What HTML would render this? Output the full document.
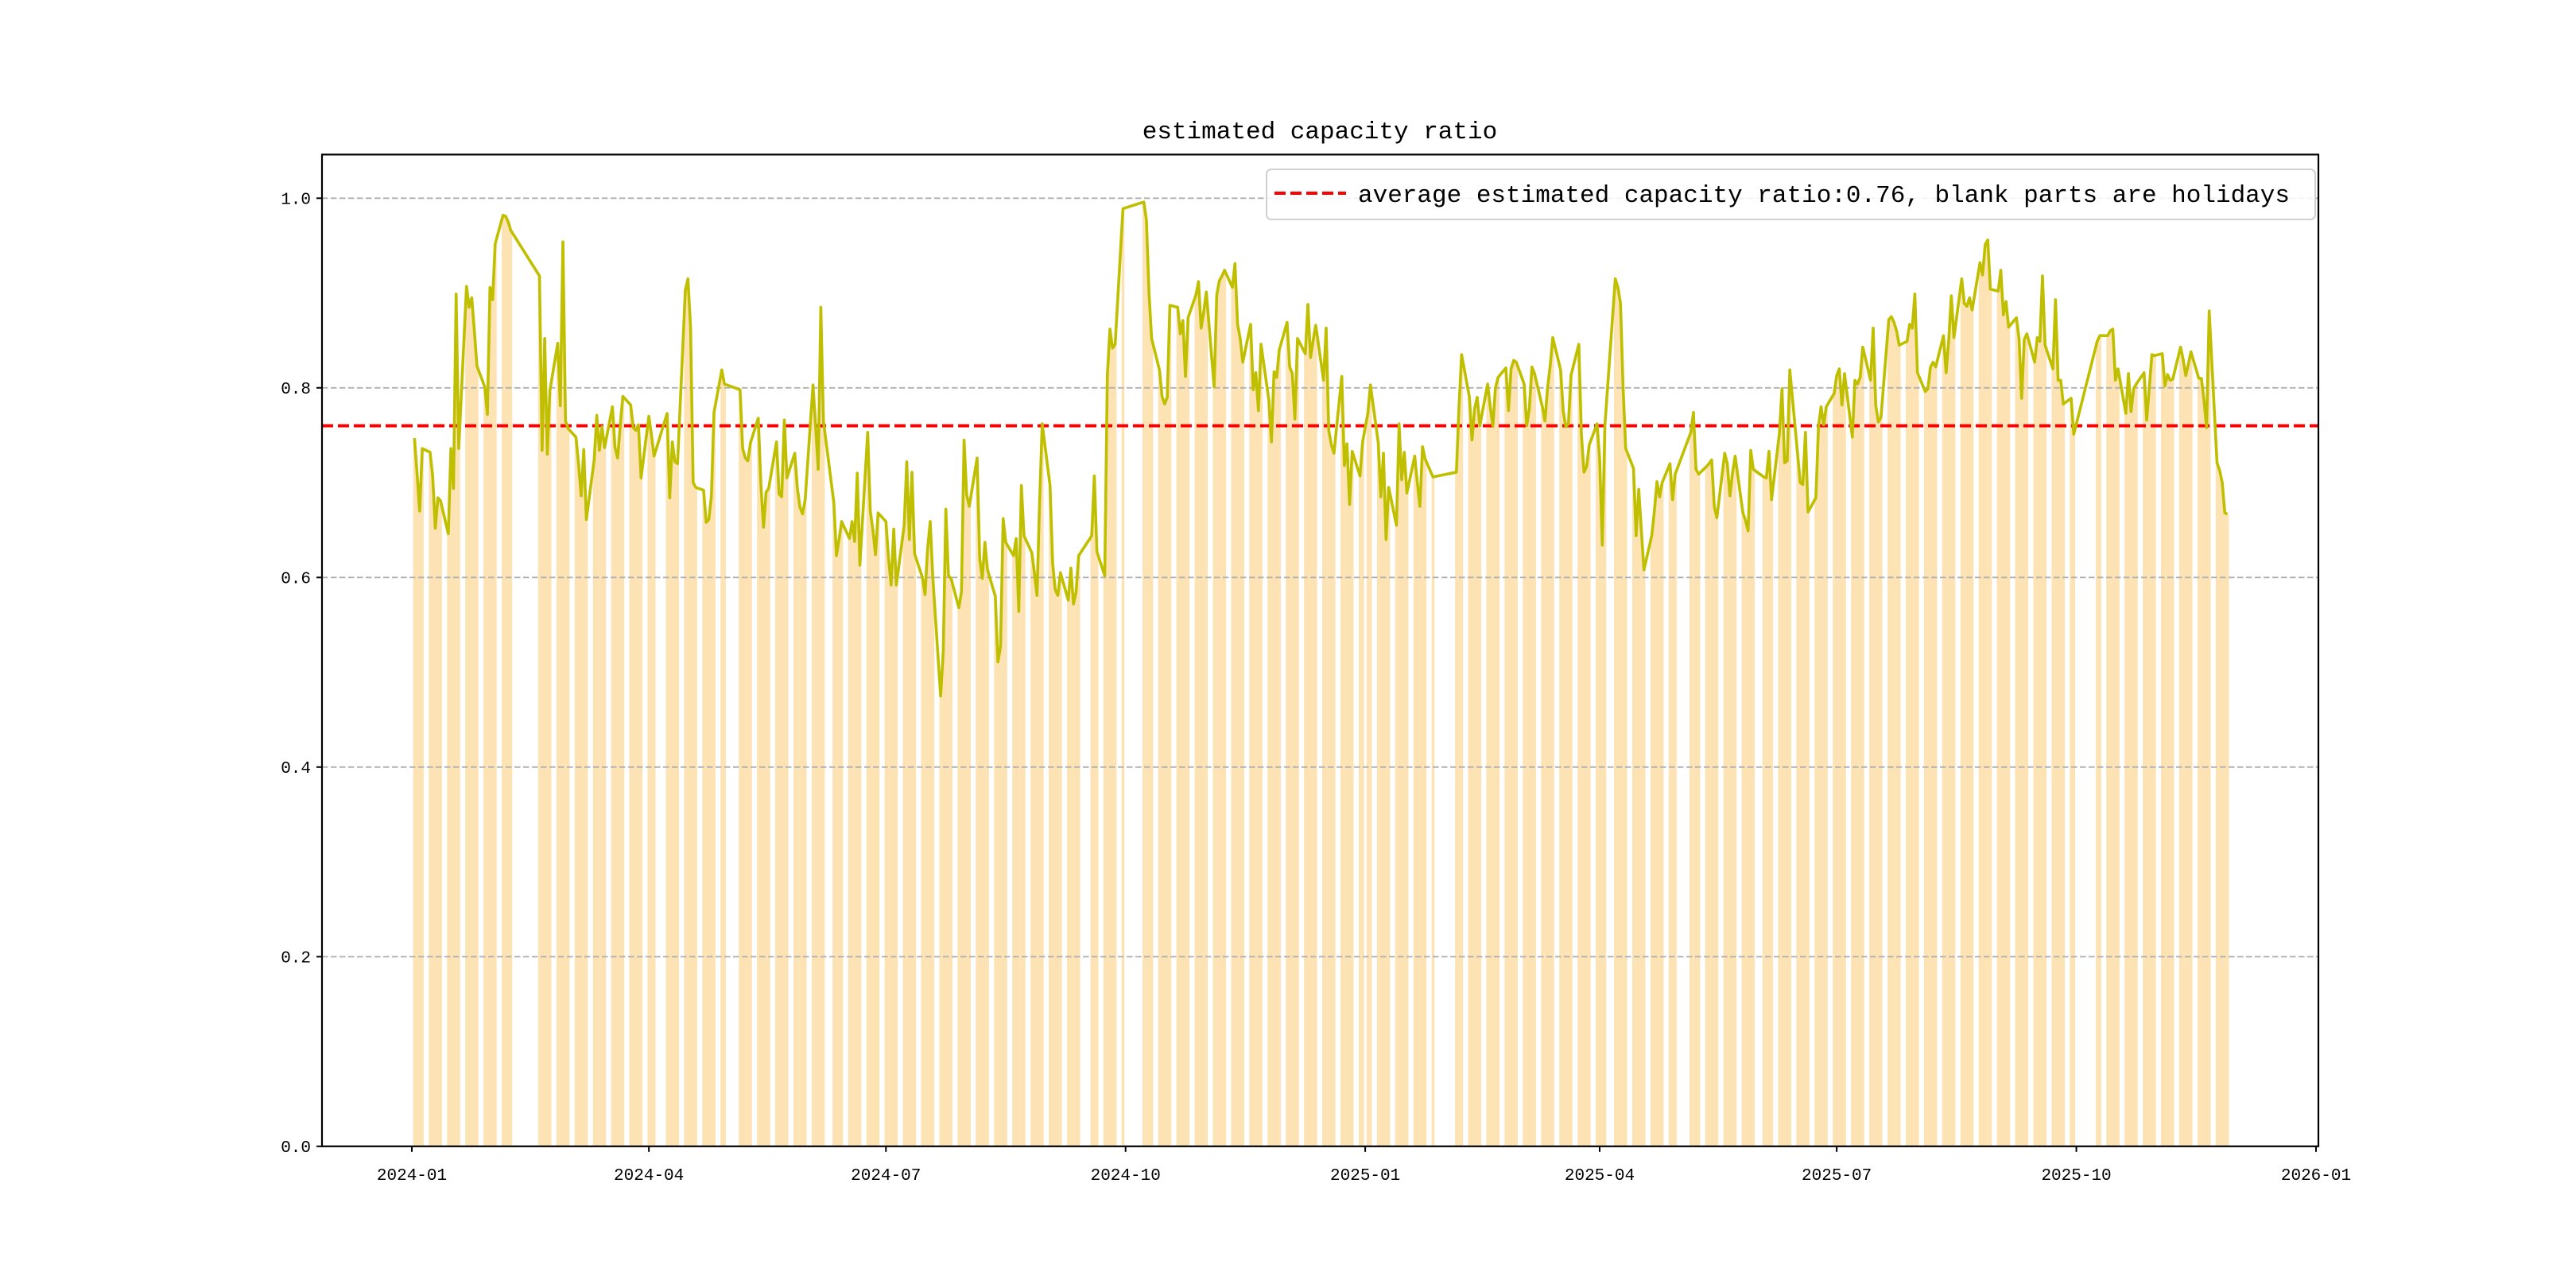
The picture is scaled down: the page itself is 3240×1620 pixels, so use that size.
<!DOCTYPE html>
<html><head><meta charset="utf-8"><style>
html,body{margin:0;padding:0;background:#fff;}
svg{display:block;}
text{font-family:"Liberation Mono","Noto Sans CJK SC",monospace;fill:#000;}
</style></head><body>
<svg id="chart" width="3240" height="1620" viewBox="0 0 3240 1620" xmlns="http://www.w3.org/2000/svg">
<rect x="0" y="0" width="3240" height="1620" fill="#fff"/>
<g id="bars"></g>
<g id="grid"></g>
<g id="avg"></g>
<g id="series"></g>
<g id="axes"></g>
<text x="1660" y="174" font-size="31" text-anchor="middle">estimated capacity ratio</text>
<g>
<rect x="1593" y="213" width="1319" height="63" rx="6" fill="#fff" fill-opacity="0.85" stroke="#d0d0d0" stroke-width="2"/>
<line x1="1603" y1="243" x2="1693" y2="243" stroke="#ff0000" stroke-width="4" stroke-dasharray="14,6"/>
<text x="1708" y="254" font-size="31">average estimated capacity ratio:0.76, blank parts are holidays</text>
</g>
</svg>
<script>
const holidays = ["2024-01-01","2024-02-09","2024-02-12","2024-02-13","2024-02-14","2024-02-15","2024-02-16","2024-04-04","2024-04-05","2024-05-01","2024-05-02","2024-05-03","2024-06-10","2024-09-16","2024-09-17","2024-10-01","2024-10-02","2024-10-03","2024-10-04","2024-10-07","2025-01-01","2025-01-28","2025-01-29","2025-01-30","2025-01-31","2025-02-03","2025-02-04","2025-04-04","2025-05-01","2025-05-02","2025-05-05","2025-06-02","2025-10-01","2025-10-02","2025-10-03","2025-10-06","2025-10-07","2025-10-08"];
const values = [
0.747,0.71,0.670,0.736,
0.732,0.707,0.652,0.684,0.681,
0.646,0.736,0.694,0.899,0.736,
0.907,0.885,0.895,0.86,0.823,
0.801,0.772,0.906,0.893,0.952,
0.982,0.981,0.975,0.966,
0.918,0.734,0.852,0.730,0.797,
0.847,0.781,0.954,0.765,0.757,
0.748,0.72,0.686,0.735,0.661,
0.724,0.771,0.734,0.759,0.737,
0.780,0.737,0.726,0.76,0.791,
0.782,0.758,0.755,0.761,0.705,
0.770,0.75,0.728,
0.773,0.684,0.743,0.722,0.720,
0.903,0.915,0.864,0.70,0.695,
0.692,0.658,0.661,0.686,0.774,
0.819,0.804,
0.798,0.736,0.726,0.723,0.742,
0.768,0.698,0.653,0.690,0.694,
0.743,0.688,0.685,0.766,0.705,
0.731,0.694,0.674,0.667,0.682,
0.803,0.76,0.714,0.885,0.765,
0.679,0.623,0.64,0.659,
0.641,0.659,0.638,0.710,0.613,
0.753,0.670,0.65,0.624,0.668,
0.659,0.62,0.592,0.651,0.592,
0.655,0.722,0.640,0.711,0.625,
0.60,0.582,0.63,0.659,0.60,
0.475,0.521,0.672,0.602,0.599,
0.568,0.585,0.745,0.687,0.675,
0.726,0.620,0.599,0.637,0.608,
0.580,0.511,0.527,0.662,0.637,
0.623,0.641,0.564,0.697,0.644,
0.626,0.605,0.581,0.68,0.762,
0.697,0.615,0.587,0.581,0.605,
0.576,0.610,0.572,0.585,0.623,
0.644,0.707,0.627,
0.602,0.813,0.862,0.842,0.846,
0.989,
0.996,0.977,0.90,0.852,
0.819,0.791,0.783,0.790,0.887,
0.885,0.857,0.871,0.812,0.874,
0.898,0.912,0.863,0.88,0.901,
0.801,0.898,0.913,0.918,0.924,
0.906,0.931,0.867,0.852,0.827,
0.867,0.798,0.816,0.776,0.846,
0.787,0.743,0.817,0.811,0.84,
0.869,0.822,0.815,0.767,0.852,
0.836,0.888,0.832,0.85,0.866,
0.808,0.863,0.755,0.74,0.731,
0.812,0.718,0.741,0.677,0.733,
0.707,0.743,
0.773,0.803,
0.742,0.685,0.731,0.640,0.695,
0.655,0.762,0.703,0.732,0.689,
0.728,0.70,0.675,0.738,0.725,
0.706,
0.711,0.78,0.835,
0.790,0.745,0.778,0.790,0.760,
0.804,0.78,0.760,0.80,0.811,
0.821,0.776,0.820,0.829,0.827,
0.804,0.760,0.778,0.822,0.815,
0.78,0.765,0.80,0.823,0.853,
0.819,0.776,0.759,0.762,0.813,
0.846,0.750,0.711,0.717,0.74,
0.762,0.725,0.634,0.76,
0.915,0.906,0.889,0.80,0.736,
0.715,0.644,0.693,0.65,0.608,
0.644,0.67,0.701,0.685,0.70,
0.720,0.682,0.709,
0.753,0.774,0.714,0.709,
0.717,0.72,0.724,0.675,0.663,
0.731,0.72,0.686,0.71,0.728,
0.668,0.66,0.649,0.734,0.714,
0.706,0.705,0.733,0.682,
0.752,0.799,0.721,0.723,0.819,
0.73,0.700,0.698,0.753,0.669,
0.684,0.759,0.780,0.761,0.78,
0.794,0.813,0.820,0.782,0.815,
0.748,0.808,0.804,0.811,0.843,
0.808,0.863,0.781,0.764,0.769,
0.872,0.875,0.869,0.860,0.845,
0.849,0.867,0.863,0.899,0.816,
0.796,0.799,0.822,0.827,0.822,
0.855,0.816,0.85,0.897,0.853,
0.915,0.889,0.886,0.895,0.882,
0.932,0.919,0.951,0.956,0.904,
0.902,0.924,0.877,0.891,0.864,
0.874,0.852,0.789,0.851,0.857,
0.827,0.853,0.849,0.918,0.845,
0.820,0.893,0.808,0.808,0.783,
0.789,0.751,
0.849,0.855,
0.855,0.86,0.862,0.808,0.82,
0.773,0.815,0.775,0.799,0.804,
0.816,0.766,0.80,0.835,0.834,
0.836,0.802,0.814,0.808,0.809,
0.843,0.83,0.813,0.825,0.838,
0.810,0.810,0.787,0.758,0.881,
0.721,0.713,0.70,0.668,0.667
];
const averageValue = 0.76;
const xTickLabels = ["2024-01","2024-04","2024-07","2024-10","2025-01","2025-04","2025-07","2025-10","2026-01"];
const yTicks = [0.0,0.2,0.4,0.6,0.8,1.0];

const NS = "http://www.w3.org/2000/svg";
const L = 405, R = 2916, T = 194.4, B = 1441.8;
const DAY = 86400000, ORIGIN = Date.UTC(2024,0,1);
function dayOf(s){const p=s.split("-").map(Number);return (Date.UTC(p[0],p[1]-1,p[2]||1)-ORIGIN)/DAY;}
function xs(d){return 518 + d*3.2763;}
function ys(v){return B - v*1192.5;}
function mk(tag, attrs, parent){const e=document.createElementNS(NS,tag);for(const k in attrs)e.setAttribute(k,attrs[k]);parent.appendChild(e);return e;}

const hol = new Set(holidays.map(dayOf));
const days = [];
let d = 1;
while (days.length < values.length) {
  const wd = new Date(ORIGIN + d*DAY).getUTCDay();
  if (wd !== 0 && wd !== 6 && !hol.has(d)) days.push(d);
  d++;
}

const gBars = document.getElementById("bars");
values.forEach((v,i)=>{
  const r = mk("rect",{x:xs(days[i]-0.5),y:ys(v),width:3.45,height:B-ys(v),fill:"#fde3b4"},gBars);
  
  
});

const gGrid = document.getElementById("grid");
const gAxes = document.getElementById("axes");
yTicks.forEach(t=>{
  const y = ys(t);
  if (t > 0) {
    const gl = mk("line",{x1:L,x2:R,y1:y,y2:y,stroke:"#b0b0b0","stroke-width":1.8,"stroke-dasharray":"7.5,3.5"},gGrid);
    
    
  }
  const tk = mk("line",{x1:L-7,x2:L,y1:y,y2:y,stroke:"#000","stroke-width":2},gAxes);
  
  
  const tl = mk("text",{x:L-14,y:y+7,"font-size":21,"text-anchor":"end"},gAxes);
  tl.textContent = t.toFixed(1);
  
  
});
xTickLabels.forEach(lbl=>{
  const x = xs(dayOf(lbl));
  const tk = mk("line",{x1:x,x2:x,y1:B,y2:B+7,stroke:"#000","stroke-width":2},gAxes);
  
  
  const tl = mk("text",{x:x,y:B+42,"font-size":21,"text-anchor":"middle"},gAxes);
  tl.textContent = lbl;
  
  
});

const gAvg = document.getElementById("avg");
const av = mk("line",{x1:L,x2:R,y1:ys(averageValue),y2:ys(averageValue),stroke:"#ff0000","stroke-width":4,"stroke-dasharray":"14,6"},gAvg);



const gSeries = document.getElementById("series");
const pts = values.map((v,i)=>xs(days[i]).toFixed(2)+","+ys(v).toFixed(2)).join(" ");
const pl = mk("polyline",{points:pts,fill:"none",stroke:"#bfbf00","stroke-width":3.6,"stroke-linejoin":"round"},gSeries);



const frame = mk("rect",{x:L,y:T,width:R-L,height:B-T,fill:"none",stroke:"#000","stroke-width":2.2},gAxes);


</script>
</body></html>
